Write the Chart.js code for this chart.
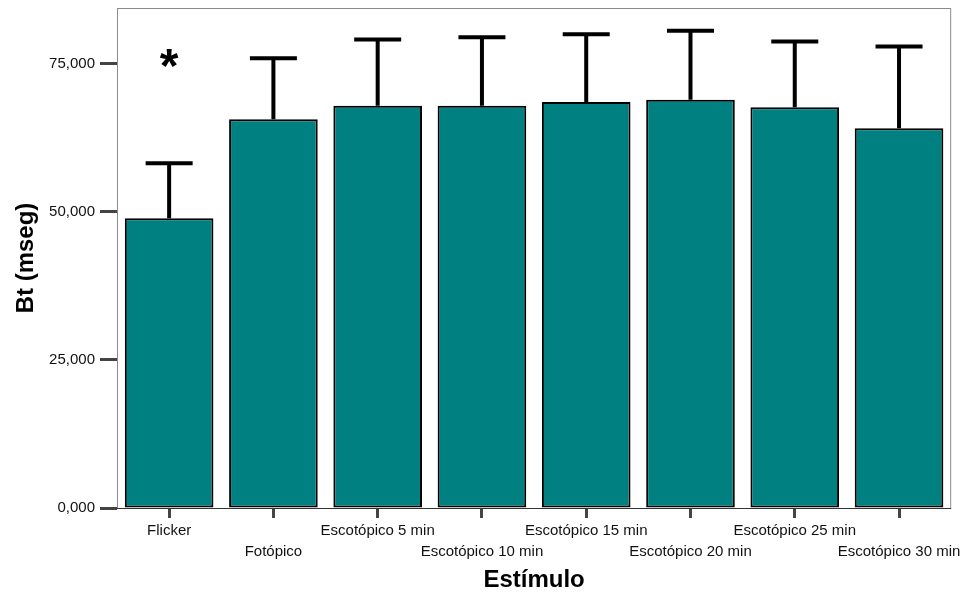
<!DOCTYPE html>
<html>
<head>
<meta charset="utf-8">
<script src="https://cdn.jsdelivr.net/npm/chart.js@4"></script>
<style>
  body { margin: 0; background: #fff; }
</style>
</head>
<body>
<canvas id="barChart" width="963" height="599"></canvas>
<script>
// data (Bt in mseg)
const categories = [
  "Flicker",
  "Fotópico",
  "Escotópico 5 min",
  "Escotópico 10 min",
  "Escotópico 15 min",
  "Escotópico 20 min",
  "Escotópico 25 min",
  "Escotópico 30 min",
];
const means = [48.9, 65.6, 67.9, 67.9, 68.55, 68.9, 67.65, 64.1];
const upperErr = [58.2, 75.9, 79.1, 79.45, 79.95, 80.55, 78.75, 77.9];
const sigMarks = ["*", "", "", "", "", "", "", ""];
const yTicks = [0, 25, 50, 75];

// staggered labels: every other one on a second line
const staggered = categories.map((c, i) => (i % 2 ? ["", c] : [c]));

const errorBars = {
  id: "errorBars",
  afterDatasetsDraw(chart) {
    const ctx = chart.ctx;
    const y = chart.scales.y;
    const meta = chart.getDatasetMeta(0);
    ctx.save();
    ctx.strokeStyle = "#000";
    ctx.lineWidth = 4;
    meta.data.forEach((bar, i) => {
      const top = y.getPixelForValue(upperErr[i]);
      ctx.beginPath();
      ctx.moveTo(bar.x, bar.y);
      ctx.lineTo(bar.x, top);
      ctx.moveTo(bar.x - 23.5, top);
      ctx.lineTo(bar.x + 23.5, top);
      ctx.stroke();
      if (sigMarks[i]) {
        ctx.fillStyle = "#000";
        ctx.font = "bold 48px 'Liberation Sans', Arial";
        ctx.textAlign = "center";
        ctx.textBaseline = "alphabetic";
        ctx.fillText(sigMarks[i], bar.x, y.getPixelForValue(71.9));
      }
    });
    ctx.restore();
  },
};

const frame = {
  id: "frame",
  beforeDatasetsDraw(chart) {
    const { left, top, right, bottom } = chart.chartArea;
    const ctx = chart.ctx;
    ctx.save();
    ctx.strokeStyle = "#8c8c8c";
    ctx.lineWidth = 1;
    ctx.strokeRect(left + 0.5, top + 0.5, right - left - 1, bottom - top);
    ctx.strokeStyle = "#333";
    ctx.beginPath();
    ctx.moveTo(left, bottom + 0.5);
    ctx.lineTo(right, bottom + 0.5);
    ctx.stroke();
    ctx.restore();
  },
};

new Chart(document.getElementById("barChart"), {
  type: "bar",
  data: {
    labels: staggered,
    datasets: [
      {
        data: means,
        backgroundColor: "#008080",
        borderColor: "#000",
        borderWidth: 2,
        borderSkipped: false,
        barPercentage: 0.85,
        categoryPercentage: 1,
      },
    ],
  },
  options: {
    responsive: false,
    animation: false,
    devicePixelRatio: 1,
    layout: { padding: { top: 7, right: 11, left: 0, bottom: 0 } },
    plugins: {
      legend: { display: false },
      tooltip: { enabled: false },
    },
    scales: {
      x: {
        grid: {
          offset: false,
          drawOnChartArea: false,
          tickLength: 10,
          tickWidth: 3,
          tickColor: "#444",
        },
        border: { display: false },
        ticks: {
          autoSkip: false,
          maxRotation: 0,
          padding: 2,
          color: "#111",
          font: { family: "'Liberation Sans', Arial", size: 15, lineHeight: 1.4 },
        },
        title: {
          display: true,
          text: "Estímulo",
          color: "#000",
          font: { family: "'Liberation Sans', Arial", size: 24, weight: "bold", lineHeight: 1.2 },
          padding: { top: 0, bottom: 4 },
        },
        afterFit(scale) {
          scale.height = 91;
        },
      },
      y: {
        min: 0,
        max: 84.4,
        afterBuildTicks(scale) {
          scale.ticks = yTicks.map((v) => ({ value: v }));
        },
        grid: {
          drawOnChartArea: false,
          tickLength: 17,
          tickWidth: 3,
          tickColor: "#444",
        },
        border: { display: false },
        ticks: {
          padding: 5,
          color: "#111",
          font: { family: "'Liberation Sans', Arial", size: 15, lineHeight: 0.4 },
          callback: (v) => v.toFixed(3).replace(".", ","),
        },
        title: {
          display: true,
          text: "Bt (mseg)",
          color: "#000",
          font: { family: "'Liberation Sans', Arial", size: 24, weight: "bold", lineHeight: 1.2 },
          padding: { top: 12, bottom: 0 },
        },
        afterFit(scale) {
          scale.width = 117;
        },
      },
    },
  },
  plugins: [frame, errorBars],
});
</script>
</body>
</html>
